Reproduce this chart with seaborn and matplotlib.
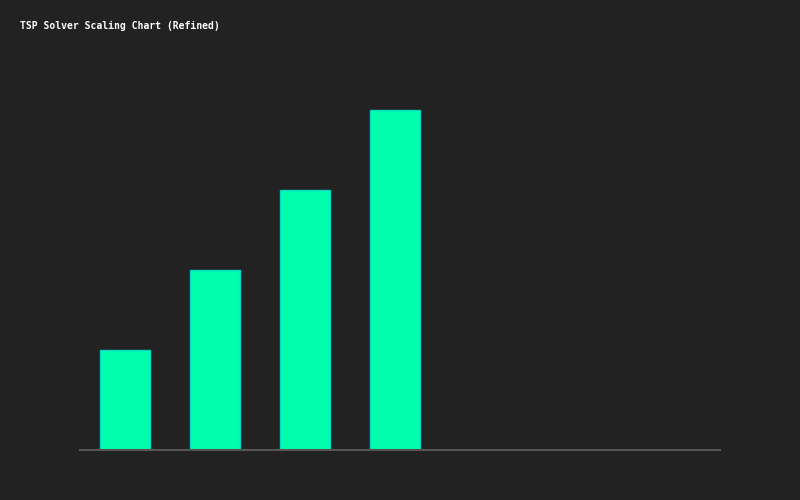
import matplotlib
matplotlib.use("Agg")
import matplotlib.pyplot as plt
import pandas as pd
import seaborn as sns

# problem sizes (no labels shown on chart) and solver cost per size
cities = ["10", "20", "30", "40"]
cost = [100, 180, 260, 340]

df = pd.DataFrame({"cities": cities, "cost": cost})

sns.set_style("dark")
plt.rcParams["font.family"] = ["DejaVu Sans Mono"]

fig = plt.figure(figsize=(8, 5), dpi=100, facecolor="#222222")
ax = fig.add_axes([0.1, 0.1, 0.8, 0.8])
ax.set_facecolor("#222222")

sns.barplot(data=df, x="cities", y="cost", color="#00ffaa", saturation=1,
            width=50 / 90, edgecolor="#00d8c8", linewidth=1, ax=ax)

ax.set_xlim(-0.5, 640 / 90 - 0.5)
ax.set_ylim(0, 400)
ax.set(xlabel="", ylabel="", xticks=[], yticks=[])
ax.grid(False)
for side in ["top", "right", "left"]:
    ax.spines[side].set_visible(False)
ax.spines["bottom"].set_color("#555555")
ax.spines["bottom"].set_linewidth(1.5)

fig.text(20 / 800, 1 - 29 / 500, "TSP Solver Scaling Chart (Refined)",
         color="white", fontsize=7, fontweight="bold", ha="left", va="baseline")

fig.savefig("out.png", dpi=100, facecolor="#222222")
